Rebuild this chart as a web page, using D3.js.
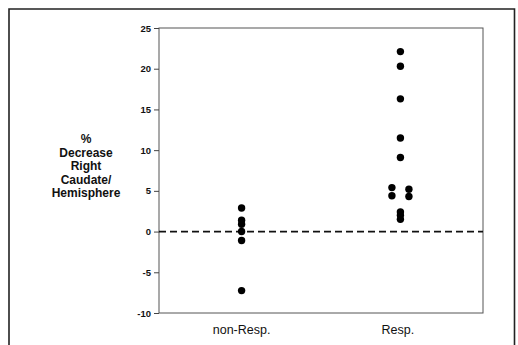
<!DOCTYPE html>
<html><head><meta charset="utf-8">
<script src="https://cdn.jsdelivr.net/npm/d3@7"></script>
<style>body{margin:0;background:#fff}svg{display:block}</style>
</head><body>
<svg id="c" width="518" height="345"></svg>
<script>
const groups = ["non-Resp.", "Resp."];
const nonRespValues = [2.9, 1.4, 0.9, 0.0, -1.1, -7.25];
const respValues = [22.1, 20.3, 16.3, 11.5, 9.1, 5.4, 4.4, 5.2, 4.3, 2.4, 2.0, 1.5];
const respOffsets = [0, 0, 0, 0, 0, -1, -1, 1, 1, 0, 0, 0];
const yTicks = [25, 20, 15, 10, 5, 0, -5, -10];
const yLabelLines = ["%", "Decrease", "Right", "Caudate/", "Hemisphere"];

const svg = d3.select("#c");
const L = 159, R = 483, T = 28, B = 313;
const y = d3.scaleLinear().domain([-10, 25]).range([B, T]);
const x = d3.scalePoint().domain(groups).range([L, R]).padding(0.52);

// outer frame
svg.append("path").attr("d", "M9,345 V9 H514.5 V345").attr("fill", "none").attr("stroke", "#222").attr("stroke-width", 1.6);

// plot box
svg.append("rect").attr("x", L).attr("y", T).attr("width", R - L).attr("height", B - T)
  .attr("fill", "none").attr("stroke", "#555").attr("stroke-width", 1);

// y axis
const ax = svg.append("g").attr("transform", `translate(${L},0)`)
  .call(d3.axisLeft(y).tickValues(yTicks).tickSize(5).tickPadding(3).tickFormat(d => String(d)));
ax.select(".domain").remove();
ax.selectAll("line").attr("stroke", "#444");
ax.selectAll("text").attr("font-family", "Liberation Sans, Arial, sans-serif").attr("font-weight", "bold").attr("font-size", 9.5).attr("fill", "#111");

// zero dashed line
svg.append("line").attr("x1", L).attr("x2", R).attr("y1", y(0)).attr("y2", y(0))
  .attr("stroke", "#111").attr("stroke-width", 1.8).attr("stroke-dasharray", "7,4");

// points
const pts = nonRespValues.map(v => ({g: groups[0], v, o: 0}))
  .concat(respValues.map((v, i) => ({g: groups[1], v, o: respOffsets[i]})));
svg.selectAll("circle.p").data(pts).join("circle").attr("class", "p")
  .attr("cx", d => x(d.g) + d.o * 8.5).attr("cy", d => y(d.v)).attr("r", 3.7).attr("fill", "#000");

// x labels
svg.selectAll("text.xl").data(groups).join("text").attr("class", "xl")
  .attr("x", (d, i) => x(d) - (i ? 2.5 : 0)).attr("y", 334).attr("text-anchor", "middle")
  .attr("font-family", "Liberation Sans, Arial, sans-serif").attr("font-size", 12.5).attr("fill", "#111")
  .text(d => d);

// y label
const yl = svg.append("text").attr("text-anchor", "middle")
  .attr("font-family", "Liberation Sans, Arial, sans-serif").attr("font-weight", "bold").attr("font-size", 12).attr("fill", "#111");
yLabelLines.forEach((t, i) => yl.append("tspan").attr("x", 86).attr("y", 143 + i * 13.6).text(t));
</script>
</body></html>
